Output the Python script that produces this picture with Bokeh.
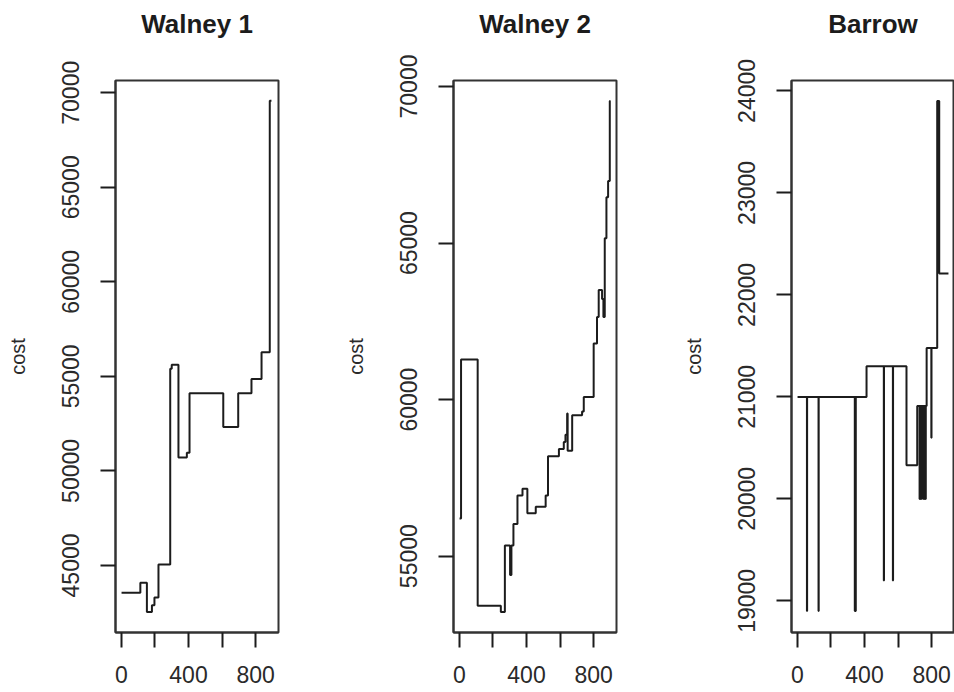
from bokeh.plotting import figure
from bokeh.layouts import row
from bokeh.models import FixedTicker, Range1d, Title
from bokeh.embed import file_html
from bokeh.resources import INLINE

# ---------------- data ----------------
titles = ["Walney 1", "Walney 2", "Barrow"]
y_label = "cost"
x_ticks = [0, 200, 400, 600, 800]
x_tick_labels = {200: "", 600: ""}

# Walney 1 (iteration where cost changes, cost)
w1_iter = [1, 113, 152, 182, 197, 221, 291, 300, 340, 390, 406, 607, 696, 775, 835, 884, 894]
w1_cost = [43550, 44080, 42540, 42900, 43300, 45050, 55400, 55620, 50710, 50960, 54110,
           52320, 54110, 54860, 56280, 69570, 69570]
w1_yticks = [45000, 50000, 55000, 60000, 65000, 70000]

# Walney 2
w2_iter = [1, 10, 109, 247, 271, 302, 310, 322, 346, 376, 405, 455, 514, 528, 593, 622,
           632, 642, 645, 672, 731, 741, 800, 820, 830, 850, 858, 866, 876, 886, 896, 900]
w2_cost = [56200, 61280, 53420, 53220, 55340, 54400, 55340, 56030, 56940, 57150, 56370,
           56580, 56940, 58190, 58420, 58650, 58880, 59560, 58370, 59500, 59620, 60080,
           61790, 62640, 63500, 63210, 62640, 65150, 66460, 66980, 69540, 69540]
w2_yticks = [55000, 60000, 65000, 70000]

# Barrow
b_iter = [1, 57, 58, 126, 127, 342, 343, 347, 348, 412, 515, 516, 569, 570, 650, 714,
          728, 729, 734, 735, 741, 742, 752, 753, 758, 759, 764, 765,
          770, 798, 799, 833, 845, 900]
b_cost = [21000, 18900, 21000, 18900, 21000, 18900, 21000, 18900, 21000, 21300, 19200,
          21300, 19200, 21300, 20330, 20910,
          20000, 20910, 20000, 20910, 20000, 20910, 20000, 20910, 20000, 20910, 20000, 20910,
          21480, 20600, 21480, 23900, 22210, 22210]
b_yticks = [19000, 20000, 21000, 22000, 23000, 24000]

FONT = "Liberation Sans"
INK = "#1c1c1c"
X_LIM = (-35, 936)


def panel(title, xs, ys, yticks, ylim, right_border):
    p = figure(frame_width=163, frame_height=552,
               x_range=Range1d(*X_LIM), y_range=Range1d(*ylim),
               output_backend="svg", toolbar_location=None,
               min_border_left=115, min_border_right=right_border,
               min_border_top=80, min_border_bottom=56)
    p.step(xs, ys, mode="after", line_color=INK, line_width=2)

    # blank spacer next to the frame, then the title above it
    p.add_layout(Title(text=" ", text_font=FONT, text_font_size="20px",
                       text_color="white", standoff=18), "above")
    p.add_layout(Title(text=title, align="center", text_font=FONT,
                       text_font_size="26px", text_font_style="bold",
                       text_color=INK, standoff=0), "above")

    p.xgrid.visible = False
    p.ygrid.visible = False
    p.outline_line_color = "#333333"
    p.outline_line_width = 2
    p.background_fill_color = "white"
    p.border_fill_color = "white"

    for ax in (p.xaxis[0], p.yaxis[0]):
        ax.axis_line_color = "#333333"
        ax.axis_line_width = 2
        ax.major_tick_line_color = INK
        ax.major_tick_line_width = 2
        ax.major_tick_in = 0
        ax.major_tick_out = 15
        ax.minor_tick_line_color = None
        ax.major_label_text_font = FONT
        ax.major_label_text_font_size = "23px"
        ax.major_label_text_color = "#2a2a2a"

    p.xaxis.ticker = FixedTicker(ticks=x_ticks)
    p.xaxis.major_label_overrides = x_tick_labels
    p.xaxis.major_label_standoff = 18

    p.yaxis.ticker = FixedTicker(ticks=yticks)
    p.yaxis.major_label_orientation = "vertical"
    p.yaxis.major_label_standoff = 21
    p.yaxis.axis_label = y_label
    p.yaxis.axis_label_text_font = FONT
    p.yaxis.axis_label_text_font_size = "20px"
    p.yaxis.axis_label_text_font_style = "normal"
    p.yaxis.axis_label_text_color = "#2a2a2a"
    p.yaxis.axis_label_standoff = 31
    return p


p1 = panel(titles[0], w1_iter, w1_cost, w1_yticks, (41454, 70647), 60)
p2 = panel(titles[1], w2_iter, w2_cost, w2_yticks, (52562, 70192), 60)
p3 = panel(titles[2], b_iter, b_cost, b_yticks, (18690, 24102), 0)

layout = row(p1, p2, p3)
open("out.html", "w").write(file_html(layout, INLINE))
